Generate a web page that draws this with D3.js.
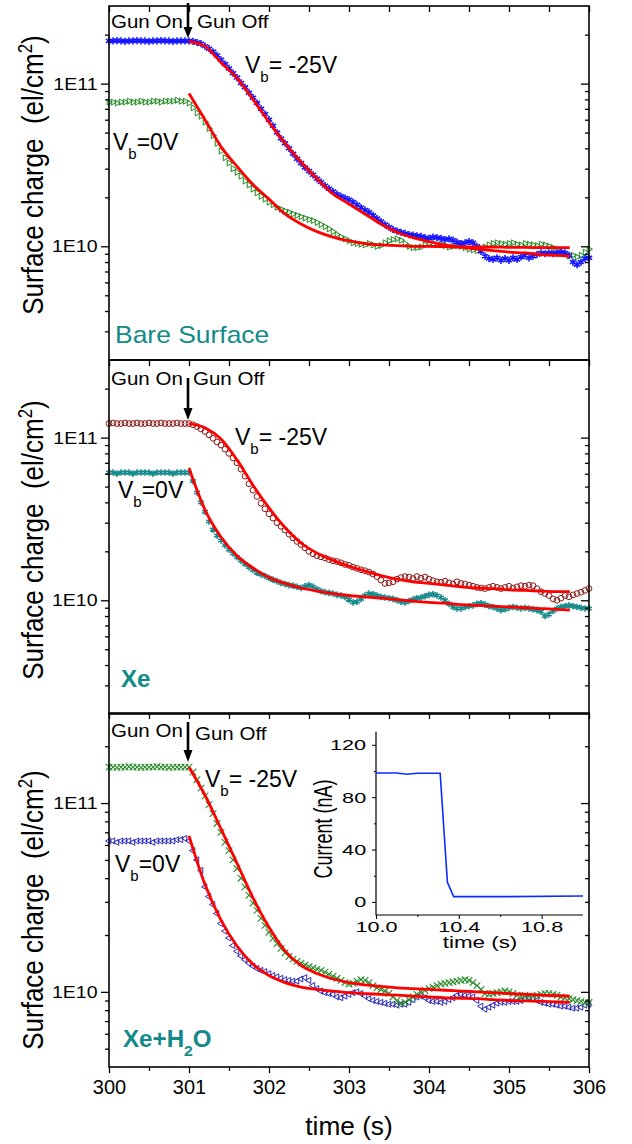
<!DOCTYPE html>
<html>
<head>
<meta charset="utf-8">
<script src="https://cdn.jsdelivr.net/npm/d3@7"></script>
<style>
  body { margin: 0; background: #fff; }
  svg { display: block; font-family: "Liberation Sans", Arial, sans-serif; }
</style>
</head>
<body>
<script>
// recorded traces: one value every 0.05 s from 300.00 s to 306.00 s
const traceStart = 300, traceStep = 0.05;

// surface charge in units of 1E10 el/cm2
const bareNeg25 = [
  18.3,18.3,18.4,18.3,18.2,18.3,18.3,18.4,18.3,18.3,18.2,18.3,18.3,18.4,18.3,18.3,18.2,18.3,18.3,18.3,18.3,
  18.2,17.9,17.6,17.0,16.4,15.7,14.9,14.0,13.2,12.4,
  11.6,10.9,10.1,9.5,8.8,8.2,7.6,7.0,6.5,6.0,
  5.5,5.0,4.6,4.3,4.0,3.7,3.45,3.25,3.05,2.9,
  2.75,2.6,2.48,2.36,2.26,2.17,2.09,2.03,1.98,1.93,
  1.87,1.80,1.73,1.67,1.62,1.55,1.48,1.42,1.36,1.31,
  1.27,1.24,1.22,1.20,1.18,1.17,1.16,1.15,1.13,1.12,
  1.14,1.13,1.12,1.10,1.11,1.09,1.06,1.04,1.05,1.07,
  1.05,1.00,0.93,0.87,0.84,0.83,0.85,0.82,0.84,0.82,
  0.85,0.83,0.86,0.88,0.85,0.87,0.89,0.91,0.90,0.91,
  0.90,0.91,0.92,0.91,0.88,0.80,0.77,0.80,0.84,0.85
];
const bareZero = [
  7.7,7.7,7.6,7.7,7.7,7.8,7.7,7.7,7.8,7.7,7.7,7.8,7.8,7.7,7.8,7.8,7.8,7.9,7.8,7.8,7.6,
  7.1,6.6,6.3,5.8,5.3,4.8,4.3,3.85,3.5,3.25,
  3.0,2.85,2.7,2.52,2.38,2.25,2.13,2.03,1.95,1.87,
  1.80,1.74,1.69,1.65,1.62,1.58,1.55,1.52,1.49,1.46,
  1.44,1.40,1.36,1.32,1.28,1.23,1.18,1.14,1.11,1.08,
  1.05,1.04,1.03,1.02,1.04,1.02,1.00,1.01,1.05,1.08,
  1.10,1.11,1.09,1.04,1.00,0.98,0.98,0.99,1.02,1.04,
  1.03,1.02,1.03,1.01,0.99,1.00,1.01,1.00,0.98,0.96,
  0.95,0.94,0.96,0.99,1.02,1.04,1.05,1.04,1.03,1.04,
  1.05,1.03,1.02,1.04,1.03,1.02,1.01,1.03,1.02,1.00,
  0.98,0.96,0.93,0.90,0.87,0.88,0.86,0.88,0.92,0.96
];
const xeNeg25 = [
  12.2,12.3,12.2,12.2,12.3,12.2,12.2,12.3,12.2,12.2,12.3,12.2,12.2,12.3,12.2,12.2,12.2,12.3,12.2,12.2,12.2,
  12.0,11.7,11.3,10.9,10.4,9.9,9.4,9.0,8.5,8.0,
  7.5,7.0,6.4,5.8,5.2,4.75,4.35,3.95,3.65,3.4,
  3.2,3.0,2.85,2.7,2.55,2.42,2.3,2.2,2.1,2.0,
  1.93,1.88,1.85,1.82,1.78,1.75,1.73,1.70,1.66,1.64,
  1.60,1.57,1.54,1.52,1.49,1.45,1.40,1.33,1.27,1.28,
  1.30,1.35,1.38,1.40,1.39,1.36,1.40,1.37,1.39,1.35,
  1.32,1.30,1.29,1.31,1.28,1.26,1.30,1.27,1.26,1.24,
  1.22,1.20,1.19,1.18,1.20,1.22,1.20,1.18,1.20,1.22,
  1.19,1.21,1.23,1.22,1.24,1.23,1.18,1.13,1.10,1.07,
  1.02,1.00,1.03,1.07,1.05,1.08,1.10,1.12,1.15,1.18
];
const xeZero = [
  6.1,6.1,6.0,6.1,6.1,6.1,6.0,6.1,6.1,6.1,6.1,6.0,6.1,6.1,6.1,6.1,6.0,6.1,6.1,6.1,6.1,
  5.4,4.6,4.0,3.5,3.05,2.72,2.5,2.33,2.18,2.05,
  1.94,1.84,1.75,1.67,1.60,1.54,1.48,1.44,1.41,1.37,
  1.34,1.31,1.28,1.26,1.24,1.23,1.21,1.19,1.22,1.24,
  1.21,1.17,1.14,1.12,1.11,1.10,1.08,1.07,1.05,1.01,
  0.97,0.98,1.02,1.07,1.10,1.09,1.07,1.05,1.04,1.03,
  1.02,1.00,0.98,0.97,0.99,1.01,1.03,1.04,1.06,1.08,
  1.09,1.07,1.04,1.00,0.95,0.91,0.89,0.89,0.91,0.92,
  0.93,0.95,0.96,0.94,0.92,0.91,0.89,0.87,0.88,0.90,
  0.91,0.90,0.89,0.90,0.89,0.88,0.87,0.85,0.80,0.82,
  0.86,0.89,0.91,0.92,0.93,0.92,0.91,0.90,0.89,0.89
];
const xeH2ONeg25 = [
  15.5,15.5,15.4,15.5,15.5,15.6,15.5,15.5,15.4,15.5,15.5,15.5,15.6,15.5,15.5,15.4,15.5,15.5,15.5,15.5,15.5,
  14.6,13.3,12.0,10.9,9.8,8.8,7.8,7.0,6.2,5.6,
  5.0,4.5,4.0,3.6,3.25,2.95,2.7,2.45,2.25,2.07,
  1.92,1.80,1.70,1.61,1.54,1.49,1.45,1.42,1.39,1.36,
  1.34,1.32,1.30,1.27,1.24,1.21,1.18,1.15,1.12,1.10,
  1.11,1.14,1.16,1.15,1.12,1.08,1.05,1.03,1.01,0.98,
  0.94,0.90,0.87,0.88,0.91,0.94,0.97,1.00,1.02,1.04,
  1.06,1.08,1.10,1.11,1.12,1.13,1.14,1.15,1.16,1.15,
  1.12,1.08,1.03,0.98,0.97,0.98,0.99,1.00,1.01,1.00,
  0.98,0.96,0.95,0.96,0.95,0.95,0.96,0.97,0.98,0.98,
  0.97,0.96,0.94,0.93,0.92,0.91,0.90,0.89,0.88,0.88
];
const xeH2OZero = [
  6.3,6.3,6.2,6.3,6.3,6.3,6.2,6.3,6.3,6.3,6.3,6.2,6.3,6.3,6.3,6.3,6.3,6.4,6.4,6.5,6.3,
  5.6,5.0,4.4,3.6,3.2,2.9,2.6,2.3,2.1,1.93,
  1.76,1.64,1.55,1.48,1.42,1.37,1.33,1.30,1.28,1.25,
  1.22,1.20,1.18,1.16,1.15,1.14,1.14,1.17,1.19,1.15,
  1.08,1.04,1.01,0.99,0.98,0.97,0.94,0.93,0.95,0.97,
  0.99,1.00,0.98,0.95,0.92,0.90,0.89,0.88,0.87,0.86,
  0.86,0.85,0.86,0.86,0.88,0.91,0.94,0.95,0.93,0.90,
  0.89,0.89,0.88,0.89,0.91,0.93,0.96,0.97,0.96,0.95,
  0.94,0.90,0.84,0.81,0.83,0.85,0.87,0.88,0.88,0.89,
  0.89,0.89,0.90,0.92,0.93,0.92,0.90,0.88,0.87,0.86,
  0.86,0.85,0.84,0.84,0.83,0.82,0.82,0.83,0.85,0.86
];

// fitted decays (red curves), same units
const fitTimes = [301.0,301.2,301.4,301.6,301.8,302.0,302.2,302.4,302.6,302.8,303.0,303.2,303.4,
  303.6,303.8,304.0,304.2,304.4,304.6,304.8,305.0,305.2,305.4,305.6,305.76];
const bareFitNeg25 = [18.2,17.0,13.5,10.8,8.0,5.8,4.3,3.3,2.6,2.1,1.82,1.58,1.37,1.22,1.13,1.07,1.02,0.99,0.96,0.94,0.92,0.91,0.89,0.88,0.87];
const bareFitZero = [8.7,6.0,4.1,3.1,2.4,1.95,1.58,1.37,1.23,1.14,1.08,1.04,1.02,1.01,1.0,1.0,0.995,0.99,0.99,0.99,0.985,0.985,0.98,0.98,0.98];
const xeFitNeg25 = [12.2,11.5,9.8,7.3,5.1,3.7,2.8,2.25,1.95,1.76,1.62,1.51,1.42,1.35,1.30,1.27,1.24,1.21,1.19,1.18,1.16,1.15,1.14,1.13,1.13];
const xeFitZero = [6.5,3.6,2.45,1.88,1.58,1.38,1.27,1.19,1.14,1.10,1.07,1.05,1.03,1.01,0.99,0.97,0.96,0.94,0.93,0.92,0.91,0.90,0.89,0.88,0.87];
const xeH2OFitNeg25 = [15.5,11.0,7.3,4.8,3.15,2.2,1.65,1.38,1.25,1.17,1.12,1.09,1.07,1.05,1.04,1.03,1.02,1.01,1.00,0.99,0.98,0.97,0.96,0.955,0.95];
const xeH2OFitZero = [6.7,3.7,2.4,1.75,1.4,1.22,1.12,1.06,1.03,1.01,0.99,0.98,0.97,0.96,0.95,0.94,0.93,0.925,0.92,0.91,0.90,0.895,0.89,0.885,0.88];

// inset: electron gun current
const insetTime = [10.0, 10.1, 10.15, 10.2, 10.31, 10.345, 10.375, 10.6, 11.0];
const insetCurrent = [98.5, 98.5, 97.5, 98.3, 98.3, 15, 4, 4, 4.5];

const xTicks = [300, 301, 302, 303, 304, 305, 306];
const insetXTicks = [10.0, 10.4, 10.8];
const insetYTicks = [0, 40, 80, 120];

const W = 632, H = 1144;
const left = 109, right = 589, panelH = 354;

const svg = d3.select("body").append("svg").attr("width", W).attr("height", H);
svg.append("rect").attr("width", W).attr("height", H).attr("fill", "#fff");

const x = d3.scaleLinear().domain([300, 306]).range([left, right]);

const symAst = d3.symbolAsterisk || d3.symbolStar;
const symTimes = d3.symbolTimes || d3.symbolCross;

const styles = {
  blueStar: { type: symAst, size: 36, color: "#1414ff", sw: 1.6, rot: 0 },
  greenTri: { type: d3.symbolTriangle, size: 16, color: "#1f8a1f", sw: 1, rot: 90 },
  redCircle: { type: d3.symbolCircle, size: 26, color: "#8b1a1a", sw: 1, rot: 0 },
  tealStar: { type: symAst, size: 30, color: "#17898a", sw: 1.6, rot: 0 },
  greenX: { type: symTimes, size: 30, color: "#2a8c2a", sw: 1.1, rot: 0 },
  navyTri: { type: d3.symbolTriangle, size: 16, color: "#2a2ab8", sw: 1, rot: -90 }
};

const panels = [
  {
    top: 6, domain: [2e9, 3e11],
    series: [[bareZero, styles.greenTri], [bareNeg25, styles.blueStar]],
    fits: [bareFitNeg25, bareFitZero],
    gun: { onY: 28, offY: 28, offX: 197, arrow: [3, 27, 38] },
    vNeg: [245, 73], vZero: [113, 150],
    name: "Bare Surface", nameXY: [115, 343], titleY: 175
  },
  {
    top: 360, domain: [2e9, 3e11],
    series: [[xeZero, styles.tealStar], [xeNeg25, styles.redCircle]],
    fits: [xeFitNeg25, xeFitZero],
    gun: { onY: 385, offY: 385, offX: 193, arrow: [378, 408, 420] },
    vNeg: [235, 445], vZero: [118, 498],
    name: "Xe", nameXY: [121, 687], titleY: 540
  },
  {
    top: 713, domain: [4e9, 3e11],
    series: [[xeH2OZero, styles.navyTri], [xeH2ONeg25, styles.greenX]],
    fits: [xeH2OFitNeg25, xeH2OFitZero],
    gun: { onY: 737, offY: 740, offX: 195, arrow: [722, 750, 762] },
    vNeg: [205, 787], vZero: [115, 872],
    name: "Xe+H2O", nameXY: [123, 1047], titleY: 910
  }
];

function minorLogTicks(domain) {
  const out = [];
  for (let e = 9; e <= 11; e++) {
    for (let m = 2; m <= 9; m++) {
      const v = m * Math.pow(10, e);
      if (v > domain[0] * 1.001 && v < domain[1] * 0.999) out.push(v);
    }
  }
  return out;
}

function styleAxis(g) {
  g.select(".domain").remove();
  g.selectAll(".tick line").attr("stroke", "#000").attr("stroke-width", 1.3);
}

panels.forEach((p, pi) => {
  const y = d3.scaleLog().domain(p.domain).range([p.top + panelH, p.top]);
  const g = svg.append("g");

  // traces
  p.series.forEach(([vals, st]) => {
    const sym = d3.symbol().type(st.type).size(st.size);
    g.append("g").selectAll("path").data(vals).join("path")
      .attr("transform", (v, i) =>
        `translate(${x(traceStart + i * traceStep)},${y(v * 1e10)}) rotate(${st.rot})`)
      .attr("d", sym)
      .attr("fill", "none")
      .attr("stroke", st.color)
      .attr("stroke-width", st.sw);
  });

  // fits
  const line = d3.line()
    .x((d, i) => x(fitTimes[i]))
    .y(d => y(d * 1e10))
    .curve(d3.curveMonotoneX);
  p.fits.forEach(f => {
    g.append("path").attr("d", line(f))
      .attr("fill", "none").attr("stroke", "#ff0000").attr("stroke-width", 2.8);
  });

  // axes
  const majors = [1e10, 1e11];
  const minors = minorLogTicks(p.domain);
  g.append("g").attr("transform", `translate(${left},0)`)
    .call(d3.axisLeft(y).tickValues(majors).tickSize(8).tickPadding(2)
      .tickFormat(d => d === 1e10 ? "1E10" : "1E11"))
    .call(styleAxis)
    .call(a => a.selectAll("text").attr("font-size", 17).attr("fill", "#000")
      .attr("font-family", "Liberation Sans, Arial, sans-serif")
      .attr("transform", "scale(1.15,1)"));
  g.append("g").attr("transform", `translate(${left},0)`)
    .call(d3.axisLeft(y).tickValues(minors).tickSize(4).tickFormat(""))
    .call(styleAxis);
  g.append("g").attr("transform", `translate(${right},0)`)
    .call(d3.axisRight(y).tickValues(majors).tickSize(-8).tickFormat(""))
    .call(styleAxis);
  g.append("g").attr("transform", `translate(${right},0)`)
    .call(d3.axisRight(y).tickValues(minors).tickSize(-4).tickFormat(""))
    .call(styleAxis);
  g.append("g").attr("transform", `translate(0,${p.top})`)
    .call(d3.axisTop(x).ticks(12).tickSize(-6).tickFormat(""))
    .call(styleAxis);
  if (pi === panels.length - 1) {
    g.append("g").attr("transform", `translate(0,${p.top + panelH})`)
      .call(d3.axisBottom(x).tickValues(xTicks).tickSize(6).tickPadding(7).tickFormat(d3.format("d")))
      .call(styleAxis)
      .call(a => a.selectAll("text").attr("font-size", 20).attr("fill", "#000")
        .attr("font-family", "Liberation Sans, Arial, sans-serif"));
    g.append("g").attr("transform", `translate(0,${p.top + panelH})`)
      .call(d3.axisBottom(x).tickValues([300.5, 301.5, 302.5, 303.5, 304.5, 305.5]).tickSize(4).tickFormat(""))
      .call(styleAxis);
  }

  g.append("rect")
    .attr("x", left).attr("y", p.top)
    .attr("width", right - left).attr("height", panelH)
    .attr("fill", "none").attr("stroke", "#000").attr("stroke-width", 1.6);

  // y title
  const title = g.append("text")
    .attr("transform", `translate(43,${p.titleY}) scale(1.15,1) rotate(-90)`)
    .attr("text-anchor", "middle").attr("font-size", 26).attr("fill", "#000")
    .style("white-space", "pre");
  title.append("tspan").text("Surface charge  (el/cm");
  title.append("tspan").attr("dy", -10).attr("font-size", 17).text("2");
  title.append("tspan").attr("dy", 10).text(")");

  // gun on / off annotation
  g.append("text").attr("transform", `translate(111,${p.gun.onY}) scale(1.08,1)`)
    .attr("font-size", 19).text("Gun On");
  g.append("text").attr("transform", `translate(${p.gun.offX},${p.gun.offY}) scale(1.08,1)`)
    .attr("font-size", 19).text("Gun Off");
  const ax = x(301) - 1, [a0, a1, a2] = p.gun.arrow;
  g.append("path")
    .attr("d", `M${ax - 1.3},${a0}L${ax + 1.3},${a0}L${ax + 1.3},${a1}L${ax + 4.5},${a1}` +
      `L${ax},${a2}L${ax - 4.5},${a1}L${ax - 1.3},${a1}Z`)
    .attr("fill", "#000");

  // bias labels
  const vn = g.append("text").attr("x", p.vNeg[0]).attr("y", p.vNeg[1]).attr("font-size", 23);
  vn.append("tspan").text("V");
  vn.append("tspan").attr("dy", 9).attr("font-size", 15).text("b");
  vn.append("tspan").attr("dy", -9).style("white-space", "pre").text("= -25V");
  const vz = g.append("text").attr("x", p.vZero[0]).attr("y", p.vZero[1]).attr("font-size", 23);
  vz.append("tspan").text("V");
  vz.append("tspan").attr("dy", 9).attr("font-size", 15).text("b");
  vz.append("tspan").attr("dy", -9).text("=0V");

  // sample label
  const nm = g.append("text")
    .attr("transform", `translate(${p.nameXY[0]},${p.nameXY[1]}) scale(${pi === 0 ? 1.15 : 1.05},1)`)
    .attr("font-size", 23).attr("fill", "#138a8a")
    .attr("font-weight", pi === 0 ? "normal" : "bold");
  if (p.name === "Xe+H2O") {
    nm.append("tspan").text("Xe+H");
    nm.append("tspan").attr("dy", 9).attr("font-size", 15).text("2");
    nm.append("tspan").attr("dy", -9).text("O");
  } else {
    nm.text(p.name);
  }
});

// shared x title
svg.append("text").attr("transform", `translate(${(left + right) / 2},1135) scale(1.05,1)`)
  .attr("text-anchor", "middle").attr("font-size", 25).text("time (s)");

// inset
const ix = d3.scaleLinear().domain([10.0, 11.0]).range([376, 583]);
const iy = d3.scaleLinear().domain([-10, 130]).range([915, 731.7]);
const ins = svg.append("g");
const stretch = "scale(1.4,1)";
ins.append("g").attr("transform", "translate(376,0)")
  .call(d3.axisLeft(iy).tickValues(insetYTicks).tickSize(4).tickPadding(3).tickFormat(d3.format("d")))
  .call(a => a.select(".domain").remove())
  .call(a => a.selectAll("text").attr("font-size", 15.5).attr("fill", "#000")
    .attr("font-family", "Liberation Sans, Arial, sans-serif").attr("transform", stretch));
ins.append("g").attr("transform", "translate(376,0)")
  .call(d3.axisLeft(iy).tickValues([20, 60, 100]).tickSize(2).tickFormat(""))
  .call(a => a.select(".domain").remove());
ins.append("g").attr("transform", "translate(0,915)")
  .call(d3.axisBottom(ix).tickValues(insetXTicks).tickSize(4).tickPadding(2).tickFormat(d3.format(".1f")))
  .call(a => a.select(".domain").remove())
  .call(a => a.selectAll("text").attr("font-size", 15.5).attr("fill", "#000")
    .attr("font-family", "Liberation Sans, Arial, sans-serif").attr("transform", stretch));
ins.append("g").attr("transform", "translate(0,915)")
  .call(d3.axisBottom(ix).tickValues([10.2, 10.6]).tickSize(2).tickFormat(""))
  .call(a => a.select(".domain").remove());
ins.append("path").attr("d", `M376,${iy.range()[1]}V915H583`)
  .attr("fill", "none").attr("stroke", "#000").attr("stroke-width", 1.2);
ins.append("path")
  .attr("d", d3.line().x((d, i) => ix(insetTime[i])).y(d => iy(d))(insetCurrent))
  .attr("fill", "none").attr("stroke", "#0a2cff").attr("stroke-width", 1.6);
ins.append("text").attr("transform", "translate(480,948) scale(1.4,1)")
  .attr("text-anchor", "middle").attr("font-size", 16).text("time (s)");
ins.append("text").attr("transform", "translate(332,829) scale(1.4,1) rotate(-90)")
  .attr("text-anchor", "middle").attr("font-size", 18).text("Current (nA)");
</script>
</body>
</html>
